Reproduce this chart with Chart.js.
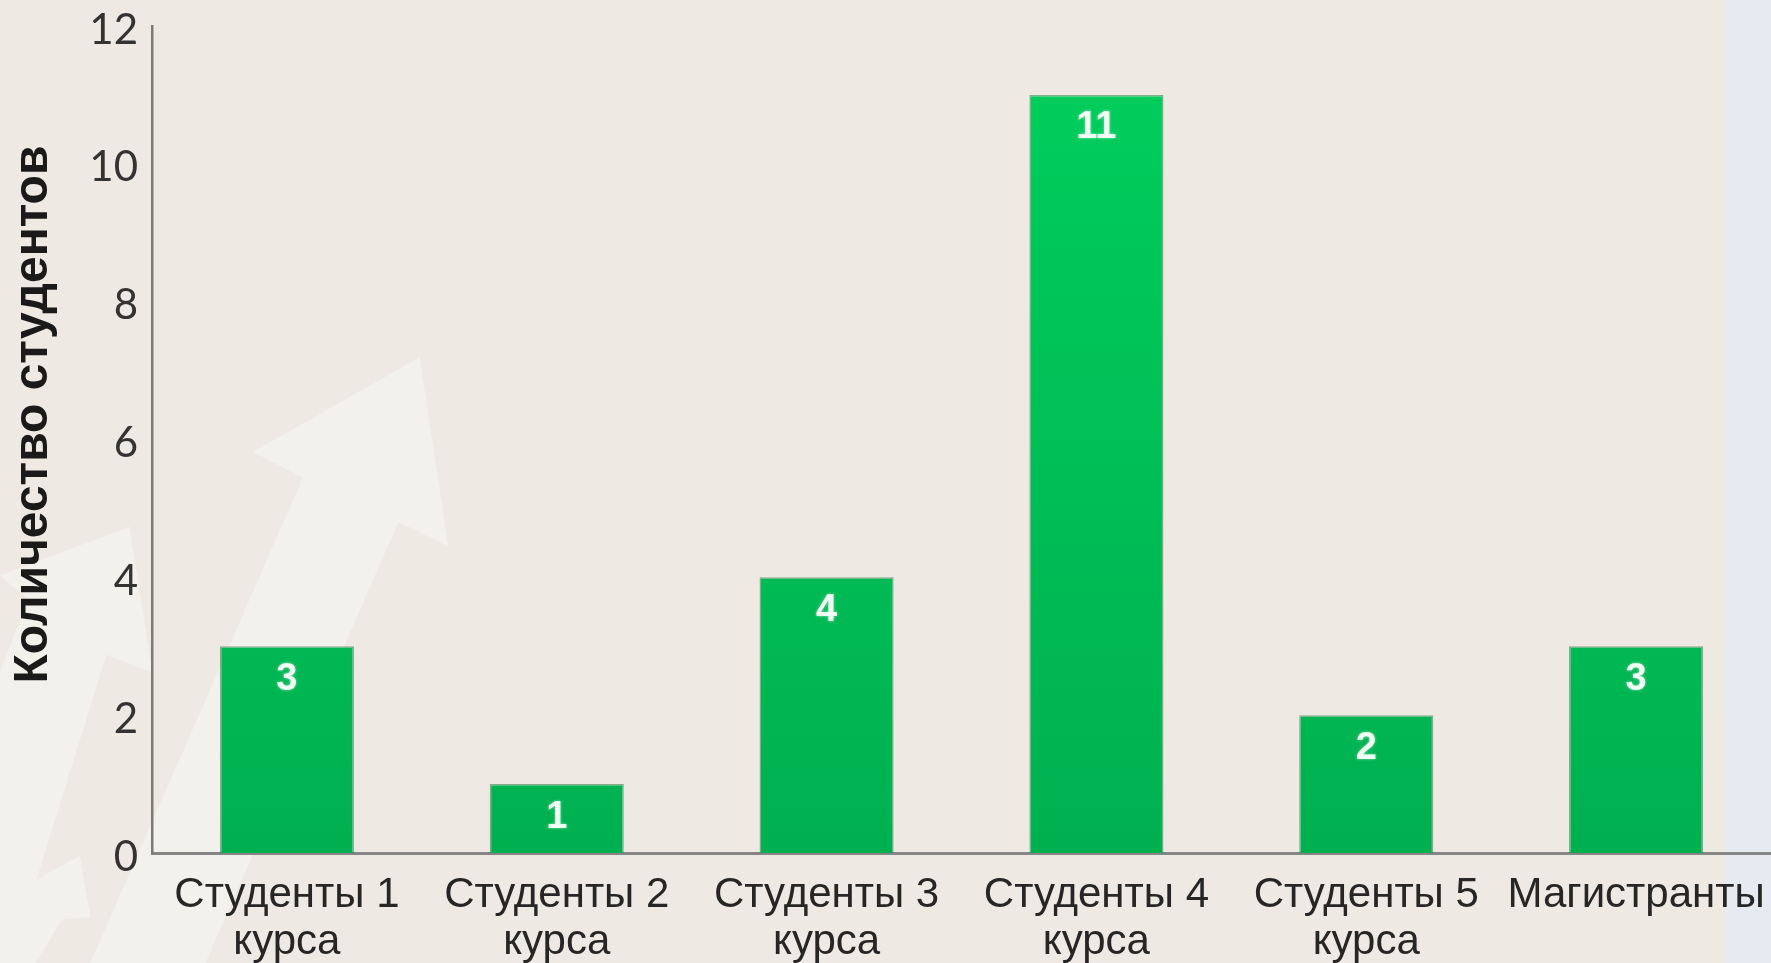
<!DOCTYPE html>
<html>
<head>
<meta charset="utf-8">
<script src="https://cdn.jsdelivr.net/npm/chart.js@4.4.1/dist/chart.umd.min.js"></script>
<style>
  html, body { margin: 0; padding: 0; background: #eeeae3; overflow: hidden; }
  canvas { display: block; }
</style>
</head>
<body>
<canvas id="c" width="1771" height="963"></canvas>
<script>
// ---- data ----
const categories = [
  ['Студенты 1', 'курса'],
  ['Студенты 2', 'курса'],
  ['Студенты 3', 'курса'],
  ['Студенты 4', 'курса'],
  ['Студенты 5', 'курса'],
  'Магистранты'
];
const studentCounts = [3, 1, 4, 11, 2, 3];
const yTicks = [0, 2, 4, 6, 8, 10, 12];
const yAxisTitle = 'Количество студентов';

// ---- decorative background ----
const bgPlugin = {
  id: 'bg',
  beforeDraw(chart) {
    const ctx = chart.ctx, W = chart.width, H = chart.height;
    ctx.save();
    ctx.fillStyle = '#eeeae3';
    ctx.fillRect(0, 0, W, H);
    ctx.fillStyle = '#e6ebf1';
    ctx.fillRect(W * 0.974, 0, W * 0.026 + 1, H);
    // faint arrows
    const arrows = [
      [[0.237,0.371],[0.253,0.567],[0.225,0.542],[0.116,1.0],[0.051,1.0],[0.171,0.496],[0.143,0.469]],
      [[0.073,0.547],[0.086,0.698],[0.060,0.680],[0.006,1.0],[-0.064,1.0],[0.016,0.622],[0.0,0.598]],
      [[0.045,0.889],[0.051,0.952],[0.035,0.955],[0.020,1.0],[-0.012,1.0],[0.016,0.938],[0.006,0.928]]
    ];
    ctx.fillStyle = '#f3f1eb';
    arrows.forEach(a => {
      ctx.beginPath();
      a.forEach((p, i) => {
        const x = p[0] * W, y = p[1] * H;
        if (i === 0) ctx.moveTo(x, y); else ctx.lineTo(x, y);
      });
      ctx.closePath();
      ctx.fill();
    });
    ctx.restore();
  }
};

// ---- value labels inside bars + rotated axis title ----
const valueLabels = {
  id: 'valueLabels',
  afterDatasetsDraw(chart) {
    const ctx = chart.ctx;
    const meta = chart.getDatasetMeta(0);
    ctx.save();
    ctx.font = 'bold 38px "Liberation Sans", Arial, sans-serif';
    ctx.fillStyle = '#f0fff4';
    ctx.textAlign = 'center';
    ctx.textBaseline = 'middle';
    ctx.shadowColor = 'rgba(220,255,230,0.6)';
    ctx.shadowBlur = 3;
    meta.data.forEach((bar, i) => {
      ctx.fillText(String(studentCounts[i]), bar.x, bar.y + 33);
    });
    ctx.restore();
  },
  afterDraw(chart) {
    const ctx = chart.ctx, a = chart.chartArea;
    ctx.save();
    ctx.translate(34, (a.top + a.bottom) / 2 - 25);
    ctx.rotate(-Math.PI / 2);
    ctx.font = 'bold 48px "Liberation Sans", Arial, sans-serif';
    ctx.fillStyle = '#1a1a1a';
    ctx.textAlign = 'center';
    ctx.textBaseline = 'middle';
    ctx.fillText(yAxisTitle, 0, 0);
    ctx.restore();
  }
};

const ctx = document.getElementById('c').getContext('2d');
new Chart(ctx, {
  type: 'bar',
  data: {
    labels: categories,
    datasets: [{
      data: studentCounts,
      backgroundColor(c) {
        const area = c.chart.chartArea;
        if (!area) return '#00c055';
        const g = c.chart.ctx.createLinearGradient(0, area.top, 0, area.bottom);
        g.addColorStop(0, '#00cf5d');
        g.addColorStop(1, '#00b050');
        return g;
      },
      borderColor: 'rgba(40,120,70,0.55)',
      borderWidth: 1.5,
      borderSkipped: 'bottom',
      barPercentage: 0.497,
      categoryPercentage: 1.0
    }]
  },
  options: {
    responsive: false,
    animation: false,
    layout: { padding: { top: 26, right: 0, bottom: 0, left: 0 } },
    plugins: {
      legend: { display: false },
      tooltip: { enabled: false }
    },
    scales: {
      x: {
        afterFit(scale) { scale.height = 110; scale.paddingLeft = 0; scale.paddingRight = 0; },
        grid: { display: false, drawTicks: false },
        border: { display: true, color: '#858585', width: 3 },
        ticks: {
          color: '#262626',
          padding: 19,
          maxRotation: 0,
          autoSkip: false,
          font: { family: '"Liberation Sans", Arial, sans-serif', size: 42, lineHeight: 1.12 }
        }
      },
      y: {
        min: yTicks[0],
        max: yTicks[yTicks.length - 1],
        afterBuildTicks(scale) { scale.ticks = yTicks.map(v => ({ value: v })); },
        afterFit(scale) { scale.width = 152; scale.paddingTop = 0; scale.paddingBottom = 0; },
        grid: { display: false, drawTicks: false },
        border: { display: true, color: '#7a7a7a', width: 2.5 },
        ticks: {
          color: '#333333',
          padding: 14,
          labelOffset: 4,
          font: { family: 'Lato, "Liberation Sans", sans-serif', size: 42, lineHeight: 1.2 }
        },
        title: { display: false }
      }
    }
  },
  plugins: [bgPlugin, valueLabels]
});
</script>
</body>
</html>
